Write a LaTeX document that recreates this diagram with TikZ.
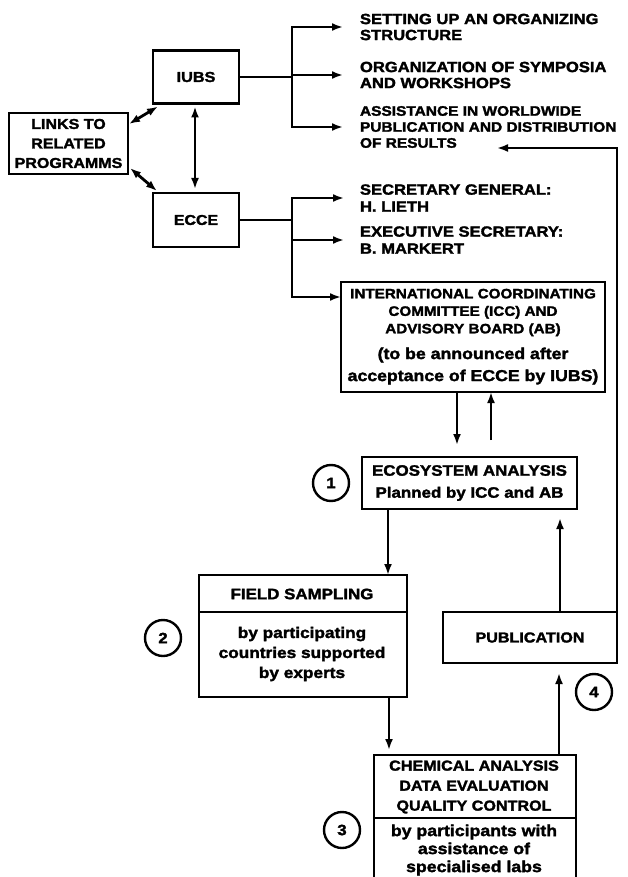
\documentclass[tikz,border=0pt]{standalone}
\usepackage{fontspec}
\newfontfamily\df[FakeStretch=1.12,FakeBold=2]{Liberation Sans}
\usetikzlibrary{arrows.meta}
\newcommand\fsz[2]{\fontsize{#1}{#2}\selectfont}
\begin{document}
\begin{tikzpicture}[x=1pt,y=-1pt,
  every node/.style={inner sep=0pt, outer sep=0pt},
  box/.style={draw, line width=2.8pt, rectangle},
  ln/.style={line width=2.8pt},
  arr/.style={line width=2.8pt, -{Latex[length=11pt,width=8pt]}},
  darr/.style={line width=2.8pt, {Latex[length=11pt,width=8pt]}-{Latex[length=11pt,width=8pt]}},
  caps/.style={font=\df\bfseries\fsz{14.8}{16}, align=left},
  sec/.style={font=\df\bfseries\fsz{14.8}{17}, align=left},
  circ/.style={draw, circle, line width=2.4pt, minimum size=36pt, font=\df\bfseries\fsz{15}{15}}
]
\fill[white] (0,0) rectangle (628,877);
\useasboundingbox (0,0) rectangle (628,877);

% boxes
\node[box, minimum width=86pt, minimum height=53pt, font=\df\bfseries\fsz{14.5}{16}] (IUBS) at (196,77) {IUBS};
\node[box, minimum width=86pt, minimum height=54pt, font=\df\bfseries\fsz{14.2}{16}] (ECCE) at (196,220) {ECCE};
\node[box, minimum width=119pt, minimum height=61pt, align=center, font=\df\bfseries\fsz{14.3}{19.5}] (LINKS) at (68.5,143.5) {LINKS TO\\RELATED\\PROGRAMMS};

\node[box, minimum width=264pt, minimum height=110pt] (ICC) at (473,337) {};
\node[align=center, font=\df\bfseries\fsz{13.6}{17.5}] (icct) at (473,312.5) {INTERNATIONAL COORDINATING\\COMMITTEE (ICC) AND\\ADVISORY BOARD (AB)};
\node[align=center, font=\df\bfseries\fsz{15.8}{22}] (iccn) at (473,366) {(to be announced after\\acceptance of ECCE by IUBS)};

\node[box, minimum width=215pt, minimum height=52pt, align=center, font=\df\bfseries\fsz{15.1}{22}] (ECO) at (469.5,483) {ECOSYSTEM ANALYSIS\\Planned by ICC and AB};

\node[box, minimum width=208pt, minimum height=122pt] (FIELD) at (303,636) {};
\draw[ln] ([yshift=-37pt]FIELD.north west) -- ([yshift=-37pt]FIELD.north east);
\node[font=\df\bfseries\fsz{15.1}{16}] (fh) at (302,594) {FIELD SAMPLING};
\node[align=center, font=\df\bfseries\fsz{15.4}{20}] (fb) at (302,654) {by participating\\countries supported\\by experts};

\node[box, minimum width=174pt, minimum height=51pt, font=\df\bfseries\fsz{14.4}{16}] (PUB) at (530,637.5) {PUBLICATION};

\node[minimum width=202pt, minimum height=122pt] (CHEM) at (475,816) {};
\draw[ln] (CHEM.south west) -- (CHEM.north west) -- (CHEM.north east) -- (CHEM.south east);
\draw[ln] ([yshift=-63pt]CHEM.north west) -- ([yshift=-63pt]CHEM.north east);
\node[align=center, font=\df\bfseries\fsz{14.4}{20}] (ch) at (474,787) {CHEMICAL ANALYSIS\\DATA EVALUATION\\QUALITY CONTROL};
\node[align=center, font=\df\bfseries\fsz{15.8}{18}] (cb) at (474,850) {by participants with\\assistance of\\specialised labs};

% numbered circles
\node[circ] (n1) at (331,483) {1};
\node[circ] (n2) at (163,638) {2};
\node[circ] (n3) at (342,830) {3};
\node[circ] (n4) at (594,692) {4};

% text targets
\node[caps, anchor=west] (t1) at (360,27) {SETTING UP AN ORGANIZING\\STRUCTURE};
\node[caps, anchor=west] (t2) at (360,75) {ORGANIZATION OF SYMPOSIA\\AND WORKSHOPS};
\node[caps, anchor=west, font=\df\bfseries\fsz{13.8}{16}] (t3) at (360,127) {ASSISTANCE IN WORLDWIDE\\PUBLICATION AND DISTRIBUTION\\OF RESULTS};
\node[sec, anchor=west] (s1) at (360,198) {SECRETARY GENERAL:\\H. LIETH};
\node[sec, anchor=west] (s2) at (360,240) {EXECUTIVE SECRETARY:\\B. MARKERT};

% coordinates
\coordinate (jI) at (292,75);
\coordinate (jE) at (292,220);
\coordinate (rt) at (497,148);
\coordinate (kd) at (457,445);
\coordinate (ku) at (491,440);
\coordinate (k1) at (388,540);
\coordinate (k2) at (560,560);
\coordinate (k3) at (389,720);
\coordinate (k4) at (559,720);

% IUBS bracket
\draw[ln] (IUBS.east) -- (IUBS.east -| jI);
\draw[arr] (jI) -- ([xshift=-17pt]t2.west);
\draw[arr] (jI) |- ([xshift=-17pt]t1.west);
\draw[arr] (jI) |- ([xshift=-17pt]t3.west);

% ECCE bracket
\draw[ln] (ECCE.east) -- (jE);
\draw[arr] (jE) |- ([xshift=-16pt]s1.west);
\draw[arr] (jE) |- ([xshift=-16pt]s2.west);
\draw[arr] (jE) |- ([yshift=-15pt]ICC.north west);

% links
\draw[darr] ([yshift=-11pt,xshift=1pt]LINKS.north east) -- ([xshift=5pt,yshift=-3pt]IUBS.south west);
\draw[darr] ([yshift=6pt,xshift=2pt]LINKS.south east) -- ([xshift=4pt,yshift=2pt]ECCE.north west);
\draw[darr] ([yshift=-3pt,xshift=-1pt]IUBS.south) -- ([yshift=4pt,xshift=-1pt]ECCE.north);

% ICC <-> ECO
\draw[arr] (ICC.south -| kd) -- (kd);
\draw[arr] (ku) -- (ICC.south -| ku);

% flow
\draw[arr] (ECO.south -| k1) -- (FIELD.north -| k1);
\draw[arr] (PUB.north -| k2) -- ([yshift=-9pt]ECO.south -| k2);
\draw[arr] (FIELD.south -| k3) -- ([yshift=5pt]CHEM.north -| k3);
\draw[arr] (CHEM.north -| k4) -- ([yshift=-10pt]PUB.south -| k4);

% feedback to publication
\draw[arr] (PUB.north east) |- (rt);
\end{tikzpicture}
\end{document}
